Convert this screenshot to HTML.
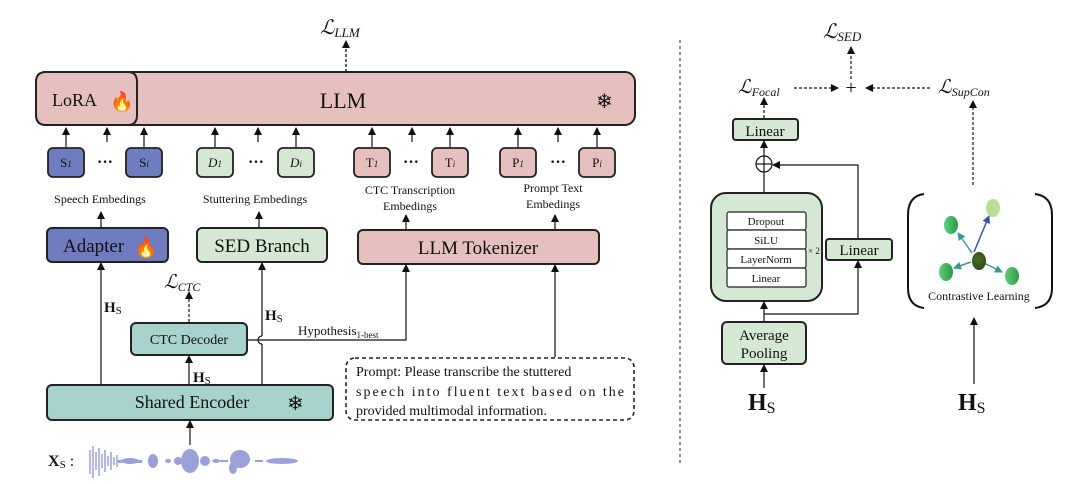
<!DOCTYPE html>
<html><head><meta charset="utf-8"><style>
html,body{margin:0;padding:0;background:#fff;}
svg{display:block;}
text{font-family:"Liberation Serif",serif;fill:#111;}
</style></head><body>
<svg width="1080" height="484" viewBox="0 0 1080 484" xmlns="http://www.w3.org/2000/svg">
<defs>
<marker id="ah" markerWidth="8" markerHeight="8" refX="7" refY="4" orient="auto" markerUnits="userSpaceOnUse">
<path d="M0,0 L8,4 L0,8 z" fill="#111"/></marker>
<marker id="at" markerWidth="8" markerHeight="8" refX="7" refY="4" orient="auto" markerUnits="userSpaceOnUse">
<path d="M0,0 L8,4 L0,8 z" fill="#3a9a8f"/></marker>
<marker id="ab" markerWidth="8" markerHeight="8" refX="7" refY="4" orient="auto" markerUnits="userSpaceOnUse">
<path d="M0,0 L8,4 L0,8 z" fill="#3b4fb0"/></marker>
<radialGradient id="gd" cx="0.4" cy="0.4" r="0.7"><stop offset="0" stop-color="#4a6a2a"/><stop offset="1" stop-color="#2e4a18"/></radialGradient>
<linearGradient id="gg" x1="0" x2="1"><stop offset="0" stop-color="#5fd07a"/><stop offset="1" stop-color="#2a9a4a"/></linearGradient>
</defs>
<g stroke="#111" stroke-width="1.3" fill="none">
<line x1="346" y1="72" x2="346" y2="41" stroke-dasharray="3,2" marker-end="url(#ah)"/>
</g>
<text x="320" y="34" font-size="20" font-style="italic">ℒ<tspan font-size="13" dy="3">LLM</tspan></text>

<rect x="36" y="72" width="599" height="53" rx="10" fill="#e6bfbf" stroke="#222" stroke-width="2"/>
<path d="M46,72 H128 Q137,72 137,82 V115 Q137,125 128,125 H46 Q36,125 36,115 V82 Q36,72 46,72 Z" fill="#e6bfbf" stroke="#222" stroke-width="2"/>
<text x="52" y="106" font-size="18">LoRA</text>
<text x="110" y="108" font-size="19">🔥</text>
<text x="343" y="108" font-size="22" text-anchor="middle">LLM</text>
<text x="596" y="108" font-size="20" fill="#8ab8f0">❄</text>

<g stroke="#111" stroke-width="1.2">
<line x1="66" y1="147" x2="66" y2="128" marker-end="url(#ah)"/>
<line x1="107" y1="142" x2="107" y2="128" marker-end="url(#ah)"/>
<line x1="144" y1="147" x2="144" y2="128" marker-end="url(#ah)"/>
<line x1="215" y1="147" x2="215" y2="128" marker-end="url(#ah)"/>
<line x1="258" y1="142" x2="258" y2="128" marker-end="url(#ah)"/>
<line x1="296" y1="147" x2="296" y2="128" marker-end="url(#ah)"/>
<line x1="372" y1="147" x2="372" y2="128" marker-end="url(#ah)"/>
<line x1="412" y1="142" x2="412" y2="128" marker-end="url(#ah)"/>
<line x1="450" y1="147" x2="450" y2="128" marker-end="url(#ah)"/>
<line x1="518" y1="147" x2="518" y2="128" marker-end="url(#ah)"/>
<line x1="558" y1="142" x2="558" y2="128" marker-end="url(#ah)"/>
<line x1="597" y1="147" x2="597" y2="128" marker-end="url(#ah)"/>
</g>
<g stroke="#222" stroke-width="1.8">
<rect x="48" y="148" width="36" height="29" rx="5" fill="#6f7cc0"/>
<rect x="126" y="148" width="36" height="29" rx="5" fill="#6f7cc0"/>
<rect x="197" y="148" width="36" height="29" rx="5" fill="#d5e8d4"/>
<rect x="278" y="148" width="36" height="29" rx="5" fill="#d5e8d4"/>
<rect x="354" y="148" width="36" height="29" rx="5" fill="#e6bfbf"/>
<rect x="432" y="148" width="36" height="29" rx="5" fill="#e6bfbf"/>
<rect x="500" y="148" width="36" height="29" rx="5" fill="#e6bfbf"/>
<rect x="579" y="148" width="36" height="29" rx="5" fill="#e6bfbf"/>
</g>
<g font-size="13" text-anchor="middle">
<text x="66" y="167">S<tspan font-size="9" font-style="italic">1</tspan></text>
<text x="144" y="167">S<tspan font-size="9" font-style="italic">i</tspan></text>
<text x="215" y="167" font-style="italic">D<tspan font-size="9">1</tspan></text>
<text x="296" y="167" font-style="italic">D<tspan font-size="9">i</tspan></text>
<text x="372" y="167">T<tspan font-size="9" font-style="italic">1</tspan></text>
<text x="450" y="167">T<tspan font-size="9" font-style="italic">i</tspan></text>
<text x="518" y="167">P<tspan font-size="9" font-style="italic">1</tspan></text>
<text x="597" y="167">P<tspan font-size="9" font-style="italic">i</tspan></text>
</g>
<g font-size="16" font-weight="bold" text-anchor="middle">
<text x="105" y="167">···</text><text x="256" y="167">···</text><text x="411" y="167">···</text><text x="558" y="167">···</text>
</g>
<g font-size="12" text-anchor="middle">
<text x="100" y="203">Speech Embedings</text>
<text x="255" y="203">Stuttering Embedings</text>
<text x="410" y="194">CTC Transcription</text>
<text x="410" y="210">Embedings</text>
<text x="553" y="192">Prompt Text</text>
<text x="553" y="208">Embedings</text>
</g>

<g stroke="#111" stroke-width="1.2">
<line x1="101" y1="228" x2="101" y2="212" marker-end="url(#ah)"/>
<line x1="259" y1="228" x2="259" y2="212" marker-end="url(#ah)"/>
<line x1="406" y1="230" x2="406" y2="215" marker-end="url(#ah)"/>
<line x1="555" y1="230" x2="555" y2="215" marker-end="url(#ah)"/>
</g>
<rect x="47" y="228" width="121" height="34" rx="5" fill="#6f7cc0" stroke="#222" stroke-width="2"/>
<text x="63" y="252" font-size="19">Adapter</text>
<text x="134" y="254" font-size="19">🔥</text>
<rect x="197" y="228" width="130" height="34" rx="5" fill="#d5e8d4" stroke="#222" stroke-width="2"/>
<text x="262" y="252" font-size="19" text-anchor="middle">SED Branch</text>
<rect x="358" y="230" width="241" height="34" rx="5" fill="#e6bfbf" stroke="#222" stroke-width="2"/>
<text x="478" y="254" font-size="19" text-anchor="middle">LLM Tokenizer</text>

<g stroke="#111" stroke-width="1.2" fill="none">
<line x1="101" y1="385" x2="101" y2="263" marker-end="url(#ah)"/>
<line x1="262" y1="385" x2="262" y2="344"/>
<path d="M262,344 a4,4 0 0 1 0,-8"/>
<line x1="262" y1="336" x2="262" y2="263" marker-end="url(#ah)"/>
<line x1="189" y1="385" x2="189" y2="356" marker-end="url(#ah)"/>
<line x1="189" y1="322" x2="189" y2="292" stroke-dasharray="3,2" marker-end="url(#ah)"/>
<polyline points="247,340 406,340 406,265" marker-end="url(#ah)"/>
<line x1="555" y1="357" x2="555" y2="265" marker-end="url(#ah)"/>
<line x1="190" y1="445" x2="190" y2="421" marker-end="url(#ah)"/>
</g>
<text x="164" y="288" font-size="19" font-style="italic">ℒ<tspan font-size="12" dy="3">CTC</tspan></text>
<text x="104" y="312" font-size="15" font-weight="bold">H<tspan font-weight="normal" font-size="11" dy="2">S</tspan></text>
<text x="265" y="320" font-size="15" font-weight="bold">H<tspan font-weight="normal" font-size="11" dy="2">S</tspan></text>
<text x="193" y="382" font-size="15" font-weight="bold">H<tspan font-weight="normal" font-size="11" dy="2">S</tspan></text>
<text x="298" y="335" font-size="13">Hypothesis<tspan font-size="9" dy="3">1-best</tspan></text>
<rect x="131" y="323" width="116" height="32" rx="5" fill="#a8d3cd" stroke="#222" stroke-width="2"/>
<text x="189" y="344" font-size="14" text-anchor="middle">CTC Decoder</text>
<rect x="47" y="385" width="286" height="35" rx="5" fill="#a8d3cd" stroke="#222" stroke-width="2"/>
<text x="192" y="408" font-size="18" text-anchor="middle">Shared Encoder</text>
<text x="287" y="410" font-size="20" fill="#8ab8f0">❄</text>

<rect x="346" y="358" width="288" height="62" rx="9" fill="none" stroke="#222" stroke-width="1.6" stroke-dasharray="4,3"/>
<g font-size="14">
<text x="356" y="376">Prompt: Please transcribe the stuttered</text>
<text x="356" y="396" textLength="268">speech into fluent text based on the</text>
<text x="356" y="415">provided multimodal information.</text>
</g>

<text x="48" y="466" font-size="16" font-weight="bold">X<tspan font-weight="normal" font-size="11" dy="2">S</tspan><tspan dy="-2" font-weight="normal"> :</tspan></text>
<g stroke="#9aa0d8" stroke-width="1.5">
<line x1="90" y1="450" x2="90" y2="474"/><line x1="93" y1="446" x2="93" y2="478"/><line x1="96" y1="452" x2="96" y2="470"/>
<line x1="99" y1="448" x2="99" y2="476"/><line x1="102" y1="454" x2="102" y2="468"/><line x1="105" y1="450" x2="105" y2="472"/>
<line x1="108" y1="456" x2="108" y2="466"/><line x1="111" y1="452" x2="111" y2="470"/><line x1="114" y1="457" x2="114" y2="465"/>
<line x1="117" y1="455" x2="117" y2="467"/>
</g>
<g fill="#9aa0d8" stroke="none">
<rect x="118" y="460" width="24" height="3"/>
<ellipse cx="130" cy="461" rx="9" ry="3"/>
<ellipse cx="153" cy="461" rx="5" ry="7"/>
<ellipse cx="168" cy="461" rx="3" ry="2"/>
<ellipse cx="178" cy="461" rx="4" ry="4"/>
<ellipse cx="190" cy="461" rx="9" ry="12"/>
<ellipse cx="205" cy="461" rx="5" ry="5"/>
<ellipse cx="216" cy="461" rx="4" ry="2"/>
<rect x="220" y="460" width="8" height="2"/>
<ellipse cx="240" cy="459" rx="10" ry="9"/>
<ellipse cx="233" cy="468" rx="4" ry="6"/>
<rect x="255" y="460" width="8" height="2"/>
<ellipse cx="282" cy="461" rx="16" ry="3"/>
</g>

<line x1="680" y1="40" x2="680" y2="466" stroke="#222" stroke-width="1" stroke-dasharray="3,3"/>

<text x="823" y="38" font-size="20" font-style="italic">ℒ<tspan font-size="13" dy="3">SED</tspan></text>
<text x="851" y="94" font-size="20" text-anchor="middle">+</text>
<text x="738" y="93" font-size="19" font-style="italic">ℒ<tspan font-size="12" dy="3">Focal</tspan></text>
<text x="938" y="93" font-size="19" font-style="italic">ℒ<tspan font-size="12" dy="3">SupCon</tspan></text>
<g stroke="#111" stroke-width="1.2" fill="none">
<line x1="851" y1="79" x2="851" y2="47" stroke-dasharray="3,2" marker-end="url(#ah)"/>
<line x1="794" y1="88" x2="838" y2="88" stroke-dasharray="3,2" marker-end="url(#ah)"/>
<line x1="930" y1="88" x2="866" y2="88" stroke-dasharray="3,2" marker-end="url(#ah)"/>
<line x1="764" y1="118" x2="764" y2="98" stroke-dasharray="3,2" marker-end="url(#ah)"/>
<line x1="973" y1="185" x2="973" y2="101" stroke-dasharray="3,2" marker-end="url(#ah)"/>
<line x1="764" y1="156" x2="764" y2="141" marker-end="url(#ah)"/>
<line x1="764" y1="193" x2="764" y2="172"/>
<polyline points="858,239 858,165 773,165" marker-end="url(#ah)"/>
<line x1="764" y1="322" x2="764" y2="302" marker-end="url(#ah)"/>
<polyline points="764,314 858,314 858,261" marker-end="url(#ah)"/>
<line x1="764" y1="388" x2="764" y2="365" marker-end="url(#ah)"/>
<line x1="974" y1="384" x2="974" y2="318" marker-end="url(#ah)"/>
<circle cx="764" cy="164" r="8"/>
<line x1="756" y1="164" x2="772" y2="164"/><line x1="764" y1="156" x2="764" y2="172"/>
</g>
<rect x="733" y="119" width="65" height="21" rx="3" fill="#d5e8d4" stroke="#222" stroke-width="2"/>
<text x="765" y="136" font-size="15" text-anchor="middle">Linear</text>
<rect x="711" y="193" width="111" height="108" rx="15" fill="#d5e8d4" stroke="#222" stroke-width="2"/>
<g stroke="#222" stroke-width="1.2" fill="#fff">
<rect x="727" y="212" width="79" height="18" rx="2"/>
<rect x="727" y="230" width="79" height="19" rx="2"/>
<rect x="727" y="249" width="79" height="19" rx="2"/>
<rect x="727" y="268" width="79" height="19" rx="2"/>
</g>
<g font-size="11" text-anchor="middle">
<text x="766" y="225">Dropout</text><text x="766" y="244">SiLU</text>
<text x="766" y="263">LayerNorm</text><text x="766" y="282">Linear</text>
</g>
<text x="808" y="254" font-size="9">× 2</text>
<rect x="826" y="239" width="66" height="21" rx="3" fill="#d5e8d4" stroke="#222" stroke-width="2"/>
<text x="859" y="255" font-size="15" text-anchor="middle">Linear</text>
<rect x="722" y="322" width="84" height="42" rx="5" fill="#d5e8d4" stroke="#222" stroke-width="2"/>
<text x="764" y="340" font-size="15" text-anchor="middle">Average</text>
<text x="764" y="358" font-size="15" text-anchor="middle">Pooling</text>
<text x="748" y="410" font-size="24" font-weight="bold">H<tspan font-weight="normal" font-size="16" dy="3">S</tspan></text>
<text x="958" y="410" font-size="24" font-weight="bold">H<tspan font-weight="normal" font-size="16" dy="3">S</tspan></text>

<g stroke="#111" stroke-width="2" fill="none">
<path d="M924,194 Q908,196 908,215 V288 Q908,306 924,308"/>
<path d="M1035,194 Q1052,196 1052,215 V288 Q1052,306 1035,308"/>
</g>
<g stroke-width="1.5" fill="none">
<line x1="974" y1="252" x2="989" y2="216" stroke="#3b4fb0" marker-end="url(#ab)"/>
<line x1="972" y1="253" x2="958" y2="233" stroke="#3a9a8f" marker-end="url(#at)"/>
<line x1="971" y1="262" x2="954" y2="268" stroke="#3a9a8f" marker-end="url(#at)"/>
<line x1="984" y1="263" x2="1002" y2="272" stroke="#3a9a8f" marker-end="url(#at)"/>
</g>
<ellipse cx="993" cy="208" rx="7" ry="9" fill="#b9df96"/>
<ellipse cx="951" cy="225" rx="7" ry="9" fill="url(#gg)"/>
<ellipse cx="946" cy="272" rx="7" ry="9" fill="url(#gg)"/>
<ellipse cx="1012" cy="276" rx="7" ry="9" fill="url(#gg)"/>
<ellipse cx="979" cy="261" rx="7" ry="9" fill="url(#gd)"/>
<text x="979" y="300" font-size="12" text-anchor="middle">Contrastive Learning</text>
</svg>
</body></html>
